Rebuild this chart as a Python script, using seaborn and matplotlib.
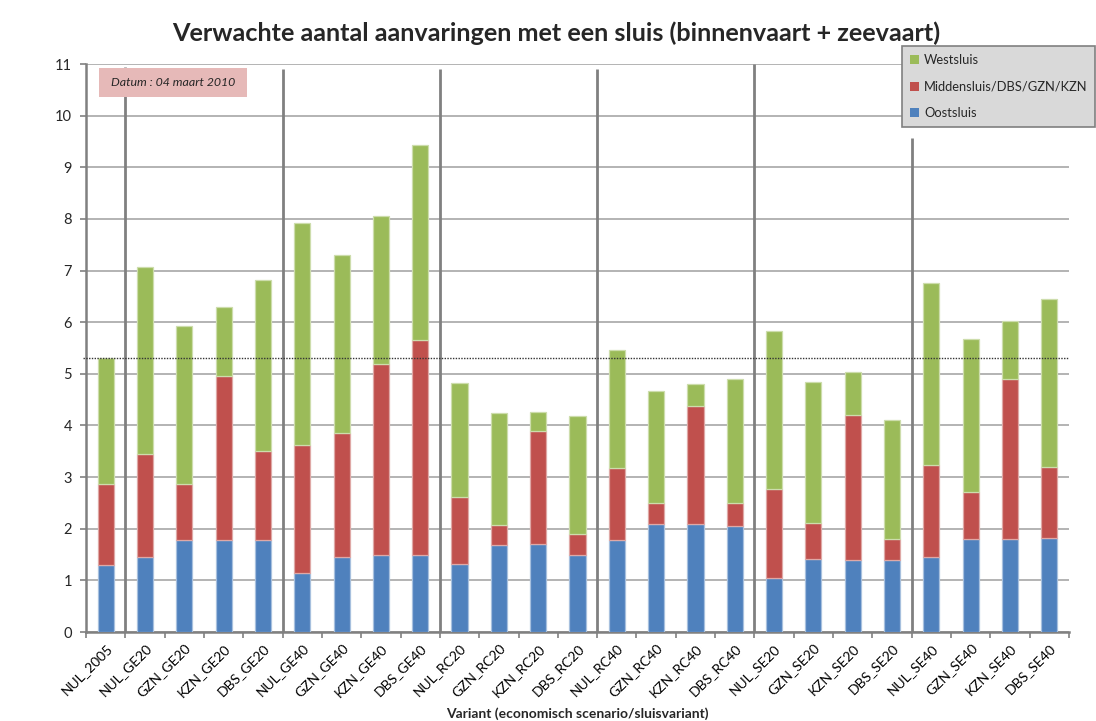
import matplotlib
matplotlib.use("Agg")
import matplotlib.pyplot as plt
from matplotlib.patches import Rectangle, Patch
import numpy as np
import pandas as pd
import seaborn as sns

categories = ["NUL_2005", "NUL_GE20", "GZN_GE20", "KZN_GE20", "DBS_GE20",
              "NUL_GE40", "GZN_GE40", "KZN_GE40", "DBS_GE40",
              "NUL_RC20", "GZN_RC20", "KZN_RC20", "DBS_RC20",
              "NUL_RC40", "GZN_RC40", "KZN_RC40", "DBS_RC40",
              "NUL_SE20", "GZN_SE20", "KZN_SE20", "DBS_SE20",
              "NUL_SE40", "GZN_SE40", "KZN_SE40", "DBS_SE40"]

oostsluis = [1.29, 1.45, 1.79, 1.79, 1.79,
             1.14, 1.46, 1.50, 1.50,
             1.31, 1.68, 1.70, 1.50,
             1.79, 2.09, 2.09, 2.06,
             1.04, 1.41, 1.40, 1.40,
             1.45, 1.81, 1.81, 1.83]
middensluis = [1.58, 2.00, 1.08, 3.16, 1.71,
               2.49, 2.39, 3.69, 4.15,
               1.30, 0.40, 2.19, 0.39,
               1.39, 0.41, 2.28, 0.44,
               1.72, 0.70, 2.81, 0.41,
               1.79, 0.91, 3.09, 1.37]
westsluis = [2.44, 3.61, 3.06, 1.35, 3.31,
             4.29, 3.45, 2.87, 3.78,
             2.21, 2.17, 0.38, 2.30,
             2.29, 2.16, 0.43, 2.40,
             3.07, 2.73, 0.83, 2.29,
             3.52, 2.95, 1.12, 3.25]

series_names = ["Oostsluis", "Middensluis/DBS/GZN/KZN", "Westsluis"]
series_colors = ["#4F81BD", "#C0504D", "#9BBB59"]
edge_colors = ["#A7C0DE", "#DFA8A6", "#CDDDAC"]

reference_level = 5.31
separator_pos = [0.5, 4.5, 8.5, 12.5, 16.5, 20.5]
separator_top = [10.95, 10.9, 10.9, 10.9, 11.0, 9.57]

title = "Verwachte aantal aanvaringen met een sluis (binnenvaart + zeevaart)"
xlabel = "Variant (economisch scenario/sluisvariant)"
date_text = "Datum : 04 maart 2010"

sns.set_theme(style="white")
base_font = ["Lato", "DejaVu Sans"]
plt.rcParams["font.family"] = base_font

df = pd.DataFrame({"Variant": categories,
                   series_names[0]: oostsluis,
                   series_names[1]: middensluis,
                   series_names[2]: westsluis})

fig = plt.figure(figsize=(10.96, 7.21), dpi=100)
ax = fig.add_axes([86/1096, 1-632/721, (1069-86)/1096, (632-64)/721])

bottom = np.zeros(len(categories))
for name, col, ec in zip(series_names, series_colors, edge_colors):
    sns.barplot(data=df, x="Variant", y=name, color=col, bottom=bottom,
                width=0.41, edgecolor=ec, linewidth=0.9, ax=ax, zorder=3,
                saturation=1)
    bottom = bottom + df[name].values

ax.set_xlim(-0.5, len(categories) - 0.5)
ax.set_ylim(0, 11)
ax.set_yticks(range(0, 12))
ax.yaxis.grid(True, color="#B3B3B3", linewidth=1.4, zorder=0)
ax.set_axisbelow(True)

# dotted reference line (NUL_2005 total)
ax.axhline(reference_level, color="#333333", linestyle=(0, (1, 1)), linewidth=1.0,
           zorder=4, xmin=-0.003, xmax=1.0, clip_on=False)

# group separators
for xp, top in zip(separator_pos, separator_top):
    ax.plot([xp, xp], [0, top], color="#808080", linewidth=2.0, zorder=2,
            solid_capstyle="butt")

for side in ["top", "right"]:
    ax.spines[side].set_visible(False)
for side in ["left", "bottom"]:
    ax.spines[side].set_color("#808080")
    ax.spines[side].set_linewidth(1.8)

ax.set_xticks(np.arange(len(categories)))
ax.set_xticklabels(categories, rotation=45, ha="right", va="top",
                   rotation_mode="anchor", fontsize=10)
ax.tick_params(axis="x", which="major", length=0, pad=7)
ax.set_xticks(np.arange(-0.5, len(categories) + 0.5, 1), minor=True)
ax.tick_params(axis="x", which="minor", length=4, color="#808080", width=1.2,
               direction="out", bottom=True)
ax.tick_params(axis="y", which="major", length=4, color="#808080", width=1.2,
               direction="out", left=True, labelsize=10.5, pad=6)
for lab in ax.get_xticklabels():
    lab.set_color("black")

ax.set_xlabel(xlabel, fontsize=10, fontweight="bold", labelpad=6)
ax.set_ylabel("")

fig.text(556/1096, 1-33/721, title, ha="center", va="center", fontsize=18.2,
         fontweight="bold", family=["Lato", "DejaVu Sans"])

# date box
fig.add_artist(Rectangle((99/1096, 1-97/721), 148/1096, 29/721,
                         transform=fig.transFigure, facecolor="#E6B9B8",
                         edgecolor="none", zorder=5))
fig.text(173/1096, 1-82.5/721, date_text, ha="center", va="center",
         fontsize=8.9, style="italic", zorder=6)

# legend
handles = [Patch(facecolor=c, edgecolor="none") for c in series_colors[::-1]]
leg = fig.legend(handles, series_names[::-1], loc="upper left",
                 bbox_to_anchor=(902/1096, 1-46/721), bbox_transform=fig.transFigure,
                 fontsize=9.3, frameon=True, fancybox=False, framealpha=1,
                 handlelength=0.7, handleheight=0.7, handletextpad=0.4,
                 labelspacing=1.15, borderpad=0.6, borderaxespad=0)
leg.get_frame().set_facecolor("#D9D9D9")
leg.get_frame().set_edgecolor("#808080")
leg.get_frame().set_linewidth(1.2)
leg.set_zorder(10)

fig.savefig("out.png", dpi=100)
